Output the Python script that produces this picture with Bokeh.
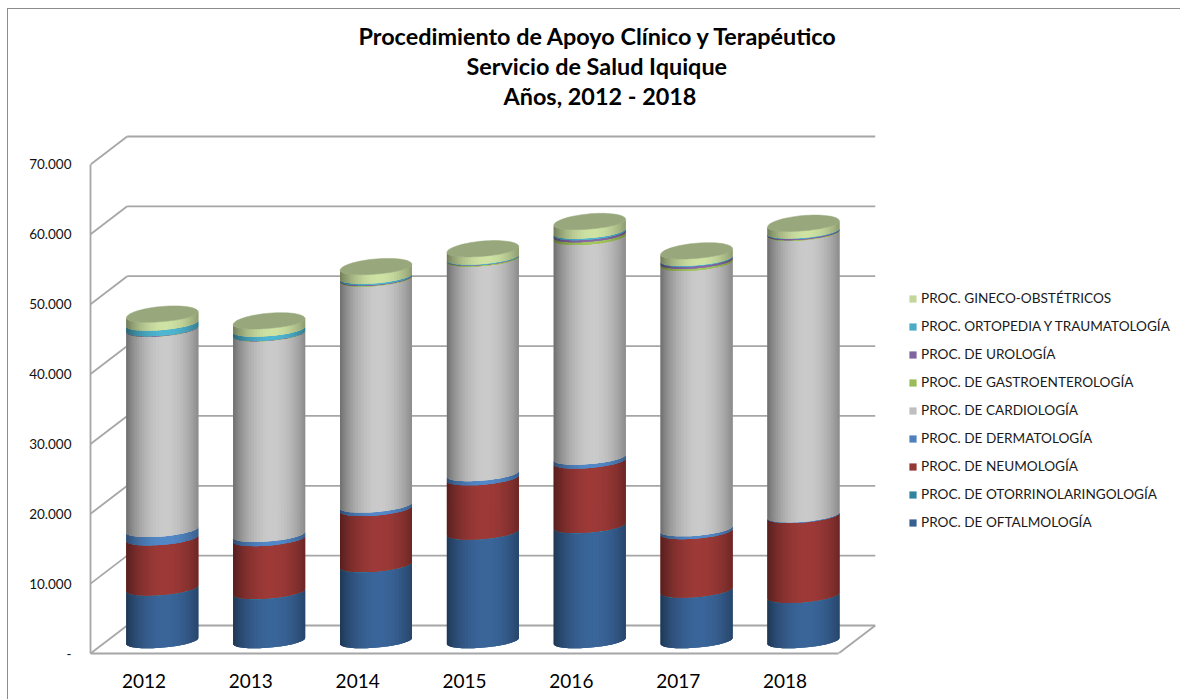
import math
from bokeh.embed import file_html
from bokeh.resources import INLINE
from bokeh.plotting import figure
from bokeh.models import Range1d, FixedTicker, Legend, LegendItem, ColumnDataSource, Title

# ---- data ----
years = ["2012", "2013", "2014", "2015", "2016", "2017", "2018"]
oftalmologia = [7515, 7015, 10865, 15515, 16465, 7215, 6465]
otorrino = [40, 40, 40, 40, 40, 40, 40]
neumologia = [7160, 7560, 8010, 7760, 9210, 8360, 11410]
dermatologia = [1200, 600, 500, 600, 550, 400, 100]
cardiologia = [28650, 28700, 32350, 30700, 31450, 38000, 40300]
gastro = [40, 40, 100, 150, 400, 300, 100]
urologia = [60, 40, 100, 50, 300, 300, 150]
ortopedia = [800, 600, 200, 100, 200, 100, 100]
gineco = [1200, 1100, 1300, 1100, 1300, 1000, 1000]

series_names = [
    "PROC. DE OFTALMOLOGÍA", "PROC. DE OTORRINOLARINGOLOGÍA", "PROC. DE NEUMOLOGÍA",
    "PROC. DE DERMATOLOGÍA", "PROC. DE CARDIOLOGÍA", "PROC. DE GASTROENTEROLOGÍA",
    "PROC. DE UROLOGÍA", "PROC. ORTOPEDIA Y TRAUMATOLOGÍA", "PROC. GINECO-OBSTÉTRICOS",
]
series_values = [oftalmologia, otorrino, neumologia, dermatologia, cardiologia,
                 gastro, urologia, ortopedia, gineco]
series_colors = ["#376092", "#31859C", "#953735", "#4F81BD", "#BFBFBF",
                 "#9BBB59", "#8064A2", "#4BACC6", "#C3D69B"]
top_color = "#98A87C"
y_ticks = [0, 10000, 20000, 30000, 40000, 50000, 60000, 70000]
y_tick_labels = ["-", "10.000", "20.000", "30.000", "40.000", "50.000", "60.000", "70.000"]
title_lines = ["Procedimiento de Apoyo Clínico y Terapéutico", "Servicio de Salud Iquique", "Años, 2012 - 2018"]
title_offsets = [268, 376, 413]

# ---- layout ----
ORIGIN_X, ORIGIN_Y = 8, 9
FRAME_L, FRAME_R, FRAME_T, FRAME_B = 90, 1181, 109, 653
PX_PER_CAT = 106.86
PX_PER_UNIT = 6.986 / 1000
GRID = "#A6A6A6"
FONT = "Lato"

px_x = lambda d: d / PX_PER_CAT
px_y = lambda d: d / PX_PER_UNIT
DEPTH_X, DEPTH_Y = px_x(36.7), px_y(28)
CENTER_Y = px_y(12.5)
RAD_X, TILT, RAD_FRONT, RAD_BACK = px_x(36), px_y(3), px_y(6.6), px_y(8.6)

p = figure(
    width=1181 - ORIGIN_X, height=700 - ORIGIN_Y, output_backend="svg", toolbar_location=None,
    x_range=Range1d(0, (FRAME_R - FRAME_L) / PX_PER_CAT),
    y_range=Range1d(0, (FRAME_B - FRAME_T) / PX_PER_UNIT),
    min_border_left=FRAME_L - ORIGIN_X, min_border_right=0,
    min_border_top=FRAME_T - ORIGIN_Y, min_border_bottom=700 - FRAME_B,
    outline_line_color=None,
    styles={"margin-left": f"{ORIGIN_X}px", "margin-top": f"{ORIGIN_Y}px",
            "box-shadow": "-1px -1px 0 0 #8C8C8C"},
)
p.grid.visible = False

for line, off in reversed(list(zip(title_lines, title_offsets))):
    p.add_layout(Title(text=line, align="left", offset=off, text_font=FONT,
                       text_font_size="23.4px", text_font_style="bold",
                       text_color="#000000", standoff=0), "above")

ya = p.yaxis[0]
ya.ticker = FixedTicker(ticks=y_ticks)
ya.bounds = (0, 70000)
ya.major_label_overrides = dict(zip(y_ticks, y_tick_labels))
ya.major_label_text_font = FONT
ya.major_label_text_font_size = "13.5px"
ya.major_label_text_color = "#111111"
ya.major_label_standoff = 13
ya.axis_line_color = GRID
ya.axis_line_width = 1.8
ya.major_tick_line_color = None
ya.minor_tick_line_color = None

cat_pos = [i + 0.5 for i in range(len(years))]
xa = p.xaxis[0]
xa.ticker = FixedTicker(ticks=cat_pos)
xa.bounds = (0, len(years))
xa.major_label_overrides = dict(zip(cat_pos, years))
xa.major_label_text_font = FONT
xa.major_label_text_font_size = "19px"
xa.major_label_text_color = "#000000"
xa.major_label_standoff = 14
xa.axis_line_color = GRID
xa.axis_line_width = 1.8
xa.major_tick_line_color = None
xa.minor_tick_line_color = None

# 3D walls
n = len(years)
p.segment(x0=[0] * len(y_ticks), y0=y_ticks, x1=[DEPTH_X] * len(y_ticks),
          y1=[t + DEPTH_Y for t in y_ticks], line_color=GRID, line_width=1.8)
p.segment(x0=[DEPTH_X] * len(y_ticks), y0=[t + DEPTH_Y for t in y_ticks],
          x1=[n + DEPTH_X] * len(y_ticks), y1=[t + DEPTH_Y for t in y_ticks],
          line_color=GRID, line_width=1.8)
p.segment(x0=[n], y0=[0], x1=[n + DEPTH_X], y1=[DEPTH_Y], line_color=GRID, line_width=1.8)


def shade(hex_color, f):
    r, g, b = (int(hex_color[i:i + 2], 16) for i in (1, 3, 5))
    return "#%02x%02x%02x" % tuple(min(255, int(c * f)) for c in (r, g, b))


def brightness(u):
    c = max(0.0, math.cos(math.pi / 2 * (u - 0.08) / 1.08))
    return 0.56 + 0.50 * c ** 0.75


STRIPS = 36


def arc(cx, base, a0, a1, steps):
    xs, ys = [], []
    for k in range(steps + 1):
        th = a0 + (a1 - a0) * k / steps
        s = math.sin(th)
        xs.append(cx + RAD_X * math.cos(th))
        ys.append(base + TILT * math.cos(th) + (RAD_BACK if s > 0 else RAD_FRONT) * s)
    return xs, ys


legend_items = []
cum = [0.0] * n
for name, vals, col in zip(series_names, series_values, series_colors):
    base_x, base_y, st_x, st_y, st_c = [], [], [], [], []
    for i in range(n):
        cx = i + 0.5 + DEPTH_X / 2
        y0, y1 = cum[i] + CENTER_Y, cum[i] + vals[i] + CENTER_Y
        bx, by = arc(cx, y0, math.pi, 2 * math.pi, STRIPS)
        tx, ty = arc(cx, y1, math.pi, 2 * math.pi, STRIPS)
        base_x.append(bx + tx[::-1])
        base_y.append(by + ty[::-1])
        for k in range(STRIPS):
            u = ((bx[k] + bx[k + 1]) / 2 - cx) / RAD_X
            e = min(k + 2, STRIPS)  # overlap the next strip so no seams show
            st_x.append(bx[k:e + 1] + tx[k:e + 1][::-1])
            st_y.append(by[k:e + 1] + ty[k:e + 1][::-1])
            st_c.append(shade(col, brightness(u)))
        cum[i] += vals[i]
    r = p.patches(base_x, base_y, fill_color=col, line_color=None)
    p.patches("x", "y", fill_color="c", line_color=None,
              source=ColumnDataSource(dict(x=st_x, y=st_y, c=st_c)))
    legend_items.append(LegendItem(label=name, renderers=[r]))

# cylinder tops
top_x, top_y = [], []
for i in range(n):
    cx = i + 0.5 + DEPTH_X / 2
    tx, ty = arc(cx, cum[i] + CENTER_Y, 0, 2 * math.pi, 72)
    top_x.append(tx)
    top_y.append(ty)
p.patches(top_x, top_y, fill_color=top_color, line_color=top_color, line_width=0.5)

legend = Legend(items=legend_items[::-1], location=(818, 123))
legend.border_line_color = None
legend.background_fill_color = None
legend.margin = 0
legend.padding = 0
legend.spacing = 12
legend.glyph_width = 9
legend.glyph_height = 9
legend.label_standoff = 4
legend.label_text_font = FONT
legend.label_text_font_size = "13.6px"
legend.label_text_color = "#1A1A1A"
legend.label_height = 16
p.add_layout(legend)

open("out.html", "w").write(file_html(p, INLINE))
